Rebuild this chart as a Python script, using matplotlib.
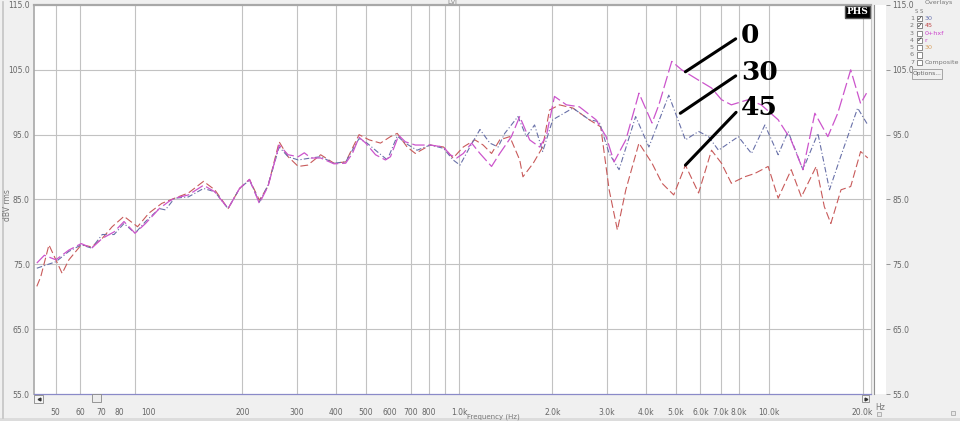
import matplotlib
matplotlib.use("Agg")
import matplotlib.pyplot as plt
from matplotlib.patches import Rectangle
from matplotlib.lines import Line2D
from matplotlib.ticker import NullLocator

# --- data (frequency in Hz, level in dB) ---
f0 = [43.5, 46, 50.1, 55.2, 60.5, 65.4, 70.7, 77.2, 83.1, 90.2, 97.5, 108, 116, 121,
      134, 150, 163, 180, 196, 211, 227, 242, 263, 281, 303, 317, 333, 358, 395, 431,
      453, 476, 500, 538, 579, 601, 639, 671, 723, 807, 891, 936, 983, 1032, 1098,
      1168, 1273, 1353, 1475, 1569, 1689, 1818, 1910, 2031, 2219, 2443, 2765, 2980,
      3162, 3450, 3803, 4190, 4409, 4852, 5224, 5922, 6518, 7018, 7553, 8564, 9427,
      10690, 11760, 12850, 14040, 15460, 16640, 18320, 19720, 20600]
db0 = [75.2, 76.4, 75.7, 77.2, 78.2, 77.5, 79.0, 80.0, 81.6, 79.8, 81.3, 83.6, 84.7, 85.2,
       85.7, 87.2, 86.2, 83.6, 86.7, 88.1, 84.4, 87.0, 93.4, 91.9, 91.6, 92.2, 91.4, 91.4, 90.5, 90.6,
       92.1, 94.6, 93.7, 91.9, 91.1, 91.6, 94.9, 93.9, 93.4, 93.4, 93.1, 91.9, 91.4, 92.1, 93.7,
       92.1, 90.1, 92.1, 94.7, 97.8, 94.2, 93.1, 94.7, 100.9, 99.6, 99.3, 97.3, 94.7,
       90.8, 94.2, 101.4, 96.8, 99.6, 106.3, 105.0, 103.4, 102.2, 100.4, 99.6, 100.4, 99.6,
       97.3, 94.2, 89.6, 98.3, 94.7, 98.3, 105.0, 99.8, 101.4]

f30 = [43.5, 50.1, 55.2, 60.5, 65.4, 70.7, 77.2, 83.1, 90.2, 97.5, 108, 113, 121, 134,
       150, 163, 180, 196, 211, 227, 242, 263, 281, 303, 333, 358, 395, 431, 476, 505,
       544, 587, 632, 671, 732, 807, 891, 957, 1007, 1084, 1168, 1257, 1337, 1404, 1549,
       1648, 1752, 1861, 2005, 2329, 2630, 2831, 3048, 3281, 3710, 4095, 4746, 5369,
       5922, 6375, 6864, 7954, 8770, 9687, 10690, 11510, 12850, 14360, 15650, 17000,
       19290, 20800]
db30 = [74.4, 75.4, 77.0, 78.0, 77.5, 79.6, 79.6, 81.3, 79.8, 81.6, 83.6, 83.4, 85.2, 85.4,
        86.7, 86.2, 83.6, 86.7, 88.0, 84.6, 87.2, 93.1, 91.6, 91.1, 91.4, 91.6, 90.6, 90.8, 94.4, 93.7,
        92.4, 91.1, 94.8, 93.7, 92.6, 93.4, 92.9, 91.1, 90.3, 93.1, 95.8, 93.7, 93.1, 95.2, 97.8,
        94.7, 96.5, 92.4, 97.3, 99.1, 97.3, 97.0, 92.1, 89.6, 97.8, 93.1, 101.1, 94.2,
        95.5, 94.7, 92.6, 94.7, 92.1, 96.5, 91.9, 95.5, 89.6, 95.2, 86.5, 91.6,
        99.1, 96.5]

f45 = [43.5, 44.8, 47.6, 50.1, 52.5, 55.2, 60.5, 65.4, 70.7, 76.1, 83.1, 91.9, 100, 110,
       121, 134, 150, 163, 180, 196, 211, 227, 242, 263, 281, 303, 325, 358, 395, 431,
       476, 513, 558, 601, 632, 680, 723, 807, 891, 957, 1032, 1125, 1196, 1273, 1353,
       1457, 1569, 1607, 1735, 1861, 1957, 2107, 2329, 2630, 2863, 3048, 3240, 3450,
       3803, 4190, 4515, 4924, 5369, 5922, 6518, 7018, 7553, 8330, 8975, 9926, 10690,
       11780, 12700, 14180, 15060, 15810, 17050, 18320, 19720, 20800]
db45 = [71.6, 73.1, 78.0, 75.7, 73.6, 75.7, 78.0, 77.7, 79.0, 80.8, 82.4, 80.8, 82.9, 84.4,
        85.2, 86.0, 87.8, 86.5, 83.6, 86.7, 88.1, 84.9, 87.0, 93.9, 91.6, 90.1, 90.3, 91.9, 90.6, 90.8,
        95.0, 94.2, 93.7, 94.7, 95.2, 93.1, 92.1, 93.4, 93.1, 91.4, 93.1, 94.2, 93.4, 92.1, 94.2,
        94.7, 91.1, 88.5, 90.6, 93.1, 98.8, 99.6, 99.1, 97.3, 96.2, 86.5, 80.3, 86.5,
        93.7, 90.6, 87.5, 85.7, 90.3, 86.0, 92.6, 90.6, 87.5, 88.5, 89.0, 90.1, 85.2,
        89.6, 85.4, 90.1, 83.9, 81.3, 86.5, 87.0, 92.4, 91.4]

grid_freqs = [50, 60, 90, 200, 300, 400, 500, 700, 800, 900, 1000, 2000, 3000, 4000,
              5000, 6000, 7000, 8000, 10000, 20000]
tick_freqs = [50, 60, 70, 80, 100, 200, 300, 400, 500, 600, 700, 800, 1000, 2000, 3000,
              4000, 5000, 6000, 7000, 8000, 10000, 20000]
tick_labels = ["50", "60", "70", "80", "100", "200", "300", "400", "500", "600", "700", "800",
               "1.0k", "2.0k", "3.0k", "4.0k", "5.0k", "6.0k", "7.0k", "8.0k", "10.0k", "20.0k"]
y_ticks = [55, 65, 75, 85, 95, 105, 115]

# callout labels: text, line start (f, dB), text anchor (f, dB)
call_text = ["0", "30", "45"]
call_from = [(5370, 104.7), (5170, 98.3), (5370, 90.3)]
call_to = [(8100, 110.3), (8100, 104.6), (8100, 99.2)]

legend_names = ["30", "45", "0+hxf", "r", "30", "", "Composite"]
legend_colors = ["#6a74b0", "#c04848", "#cc44cc", "#cc44cc", "#d8a060", "#777", "#777"]
legend_checked = [True, True, False, True, False, False, False]

W, H = 960, 421


def fx(x):
    return x / W


def fy(y):
    return 1 - y / H


fig = plt.figure(figsize=(9.6, 4.21), dpi=100, facecolor="#f0f0f0")

ax = fig.add_axes([fx(34), fy(394), fx(871) - fx(34), fy(5) - fy(394)])
ax.set_facecolor("white")
ax.set_xscale("log")
ax.set_xlim(42.6, 21300)
ax.set_ylim(55, 115)

for f in grid_freqs:
    ax.axvline(f, color="#c2c2c2", lw=0.8, zorder=1)
for v in y_ticks[1:-1]:
    ax.axhline(v, color="#c2c2c2", lw=0.8, zorder=1)

ax.plot(f45, db45, color="#c85a5a", lw=0.8, dashes=(7, 3), zorder=3)
ax.plot(f30, db30, color="#6870a8", lw=0.8, dashes=(5, 2, 1, 2), zorder=3)
ax.plot(f0, db0, color="#cc55cc", lw=0.9, dashes=(10, 3), zorder=4)

for txt, p0, p1 in zip(call_text, call_from, call_to):
    ax.annotate(txt, xy=p0, xytext=p1, ha="left", va="center",
                fontsize=19, fontweight="bold", family="DejaVu Serif", color="black",
                arrowprops=dict(arrowstyle="-", color="black", lw=2.2,
                                shrinkA=2, shrinkB=0, relpos=(0, 0.5)), zorder=6)

ax.xaxis.set_minor_locator(NullLocator())
ax.set_xticks(tick_freqs, labels=tick_labels)
ax.tick_params(axis="x", length=0, pad=10, labelsize=5.5, labelcolor="#666")
ax.set_yticks(y_ticks, labels=[f"{v:.1f}" for v in y_ticks])
ax.tick_params(axis="y", length=0, pad=3, labelsize=5.5, labelcolor="#666")

ax.spines["top"].set_color("#a8a8a8")
ax.spines["top"].set_linewidth(1.6)
ax.spines["left"].set_color("#a8a8a8")
ax.spines["left"].set_linewidth(1.2)
ax.spines["bottom"].set_color("#8a8ac8")
ax.spines["bottom"].set_linewidth(0.9)
ax.spines["right"].set_color("#c8c8c8")
ax.spines["right"].set_linewidth(0.8)

fig.text(fx(857.5), fy(12), "PHS", ha="center", va="center",
         fontsize=6.5, fontweight="bold", family="DejaVu Serif", color="white",
         bbox=dict(boxstyle="square,pad=0.2", facecolor="black", edgecolor="#555"), zorder=7)

# right-hand strip with the second level scale
axr = fig.add_axes([fx(874), fy(394), fx(886) - fx(874), fy(5) - fy(394)])
axr.set_facecolor("white")
axr.set_ylim(55, 115)
axr.set_xticks([])
axr.yaxis.tick_right()
axr.set_yticks(y_ticks, labels=[f"{v:.1f}" for v in y_ticks])
axr.tick_params(axis="y", length=3, width=0.6, color="#888", pad=1.5,
                labelsize=5.5, labelcolor="#666")
for s in ["top", "right", "bottom"]:
    axr.spines[s].set_visible(False)
axr.spines["left"].set_color("#909090")

# labels around the plot
fig.text(fx(8), fy(205), "dBV rms", rotation=90, ha="center", va="center",
         fontsize=5.5, color="#777")
fig.text(fx(493), fy(416.5), "Frequency (Hz)", ha="center", va="center",
         fontsize=5, color="#777")
fig.text(fx(880), fy(407), "Hz", ha="center", va="center", fontsize=5.5, color="#777")
fig.text(fx(452), fy(2.5), "Lvl", ha="center", va="center", fontsize=5, color="#888")

# window chrome
fig.add_artist(Line2D([fx(3), fx(3)], [fy(2), fy(418)], color="#c4c4c4", lw=1.2))
fig.add_artist(Rectangle((0, 0), 1, 3 / H, facecolor="#dcdcdc", edgecolor="none"))


def box(x0, y0, x1, y1, face="#f4f4f4", edge="#888"):
    fig.add_artist(Rectangle((fx(x0), fy(y1)), fx(x1) - fx(x0), fy(y0) - fy(y1),
                             facecolor=face, edgecolor=edge, lw=0.6))


box(34, 395, 43, 403)
fig.add_artist(Line2D([fx(38.5)], [fy(399)], marker="<", ms=2, color="#333"))
box(92, 394, 101, 402, face="#ececec")
box(862, 395, 869, 402)
fig.add_artist(Line2D([fx(865.5)], [fy(398.5)], marker=">", ms=2, color="#333"))
box(877, 412, 881, 416, face="#e8e8e8", edge="#aaa")
box(951, 411, 955, 415, face="#e8e8e8", edge="#aaa")

# overlay panel
fig.text(fx(939), fy(2.5), "Overlays", ha="center", va="center", fontsize=4.6, color="#777")
fig.text(fx(919), fy(11.5), "S S", ha="center", va="center", fontsize=3.8, color="#777")
rows_y = [18.5, 25.8, 33.1, 40.4, 47.7, 55, 62.3]
for i, (ry, name, col, chk) in enumerate(zip(rows_y, legend_names, legend_colors, legend_checked)):
    fig.text(fx(912), fy(ry), str(i + 1), ha="center", va="center", fontsize=4.6, color="#777")
    box(917, ry - 2.5, 922, ry + 2.5, face="white", edge="#777")
    if chk:
        fig.text(fx(919.5), fy(ry), "\u2713", ha="center", va="center", fontsize=5, color="#333")
    fig.text(fx(924.5), fy(ry), name, ha="left", va="center", fontsize=4.6, color=col)
box(912, 69, 942, 79, face="#f0f0f0", edge="#999")
fig.text(fx(927), fy(74), "Options...", ha="center", va="center", fontsize=4.3, color="#666")

fig.savefig("out.png", dpi=100, facecolor=fig.get_facecolor())
